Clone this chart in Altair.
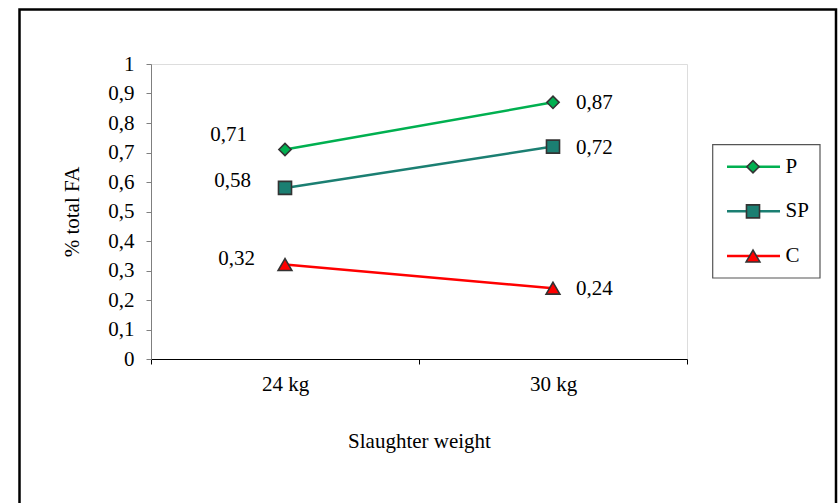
import altair as alt
import pandas as pd

# Fatty-acid share by slaughter weight, three feeding groups
weights = ["24 kg", "30 kg"]
series = ["P", "SP", "C"]
p_values = [0.71, 0.87]
sp_values = [0.58, 0.72]
c_values = [0.32, 0.24]

colors = ["#00b050", "#1b7f72", "#ff0000"]
shapes = ["diamond", "square", "triangle-up"]
sizes = [150, 190, 220]

rows = []
for name, vals in zip(series, [p_values, sp_values, c_values]):
    for w, v in zip(weights, vals):
        rows.append({"weight": w, "series": name, "value": v,
                     "label": f"{v:.2f}".replace(".", ",")})
df = pd.DataFrame(rows)
legend_df = pd.DataFrame({"series": series})

FONT = "'Liberation Serif', 'Times New Roman', Times, serif"
W, H = 536, 295

color_scale = alt.Scale(domain=series, range=colors)
shape_scale = alt.Scale(domain=series, range=shapes)
size_scale = alt.Scale(domain=series, range=sizes)

x_enc = alt.X(
    "weight:N",
    scale=alt.Scale(domain=weights, paddingInner=0, paddingOuter=0),
    axis=alt.Axis(
        title="Slaughter weight", labelAngle=0, tickBand="extent", grid=False,
        domainColor="#000000", tickColor="#000000", tickSize=5,
        labelFont=FONT, labelFontSize=21, labelPadding=9, labelColor="#000000",
        titleFont=FONT, titleFontSize=21, titleFontWeight="normal",
        titleColor="#000000", titleY=82, titleBaseline="middle",
    ),
)
y_enc = alt.Y(
    "value:Q",
    scale=alt.Scale(domain=[0, 1], nice=False),
    axis=alt.Axis(
        title="% total FA", values=[i / 10 for i in range(11)],
        labelExpr="replace(format(datum.value, '.1~f'), '.', ',')",
        grid=False, domainColor="#7f7f7f", tickColor="#7f7f7f", tickSize=5,
        labelFont=FONT, labelFontSize=21, labelPadding=12, labelColor="#000000",
        titleFont=FONT, titleFontSize=21, titleFontWeight="normal",
        titleColor="#000000", titleX=-79, titleY=H / 2, titleAngle=-90,
        titleBaseline="middle", titleAlign="center",
    ),
)

base = alt.Chart(df)
one_row = alt.Data(values=[{}])

frame = alt.Chart(one_row).mark_rect(
    fill="transparent", stroke="#000000", strokeWidth=2.5
).encode(x=alt.value(-131.5), x2=alt.value(685),
         y=alt.value(-54.5), y2=alt.value(460))

lines = base.mark_line(strokeWidth=2.5).encode(
    x=x_enc, y=y_enc,
    color=alt.Color("series:N", scale=color_scale, legend=None),
    detail="series:N",
)

points = base.mark_point(filled=True, stroke="#333333", strokeWidth=1.6, opacity=1).encode(
    x=x_enc, y=y_enc,
    fill=alt.Fill("series:N", scale=color_scale, legend=None),
    shape=alt.Shape("series:N", scale=shape_scale, legend=None),
    size=alt.Size("series:N", scale=size_scale, legend=None),
)

text_style = dict(font=FONT, fontSize=21, color="#000000", baseline="middle")

right_labels = base.transform_filter(alt.datum.weight == "30 kg").mark_text(
    align="left", dx=23, dy=1, **text_style
).encode(x=x_enc, y=y_enc, text="label:N")

left_offsets = {"P": (-38, -15), "SP": (-34, -7), "C": (-30, -6)}
left_labels = [
    base.transform_filter(
        (alt.datum.weight == "24 kg") & (alt.datum.series == s)
    ).mark_text(align="right", dx=dx, dy=dy, **text_style).encode(
        x=x_enc, y=y_enc, text="label:N"
    )
    for s, (dx, dy) in left_offsets.items()
]

# Legend: a boxed column of line + marker + name, one row per series
legend_box = alt.Chart(one_row).mark_rect(
    fill="transparent", stroke="#555555", strokeWidth=1.2
).encode(x=alt.value(561.7), x2=alt.value(669),
         y=alt.value(80.7), y2=alt.value(214))

legend_layers = []
for i, s in enumerate(series):
    row_y = 102.7 + i * 44.65
    leg = alt.Chart(legend_df).transform_filter(alt.datum.series == s)
    legend_layers.append(leg.mark_rule(strokeWidth=2.5).encode(
        x=alt.value(576), x2=alt.value(629), y=alt.value(row_y),
        color=alt.Color("series:N", scale=color_scale, legend=None),
    ))
    legend_layers.append(leg.mark_point(
        filled=True, stroke="#333333", strokeWidth=1.6, opacity=1
    ).encode(
        x=alt.value(602), y=alt.value(row_y),
        fill=alt.Fill("series:N", scale=color_scale, legend=None),
        shape=alt.Shape("series:N", scale=shape_scale, legend=None),
        size=alt.Size("series:N", scale=size_scale, legend=None),
    ))
    legend_layers.append(leg.mark_text(align="left", **text_style).encode(
        x=alt.value(634.5), y=alt.value(row_y), text="series:N"
    ))

chart = (
    alt.layer(frame, lines, points, right_labels, *left_labels,
              legend_box, *legend_layers)
    .properties(
        width=W, height=H, autosize="none",
        padding={"left": 151, "top": 64, "right": 153, "bottom": 144},
        background="#ffffff",
    )
    .configure_view(stroke=None, strokeWidth=0)
    .configure(font=FONT)
)

chart.save("out.html", embed_options={"renderer": "svg", "actions": False})
